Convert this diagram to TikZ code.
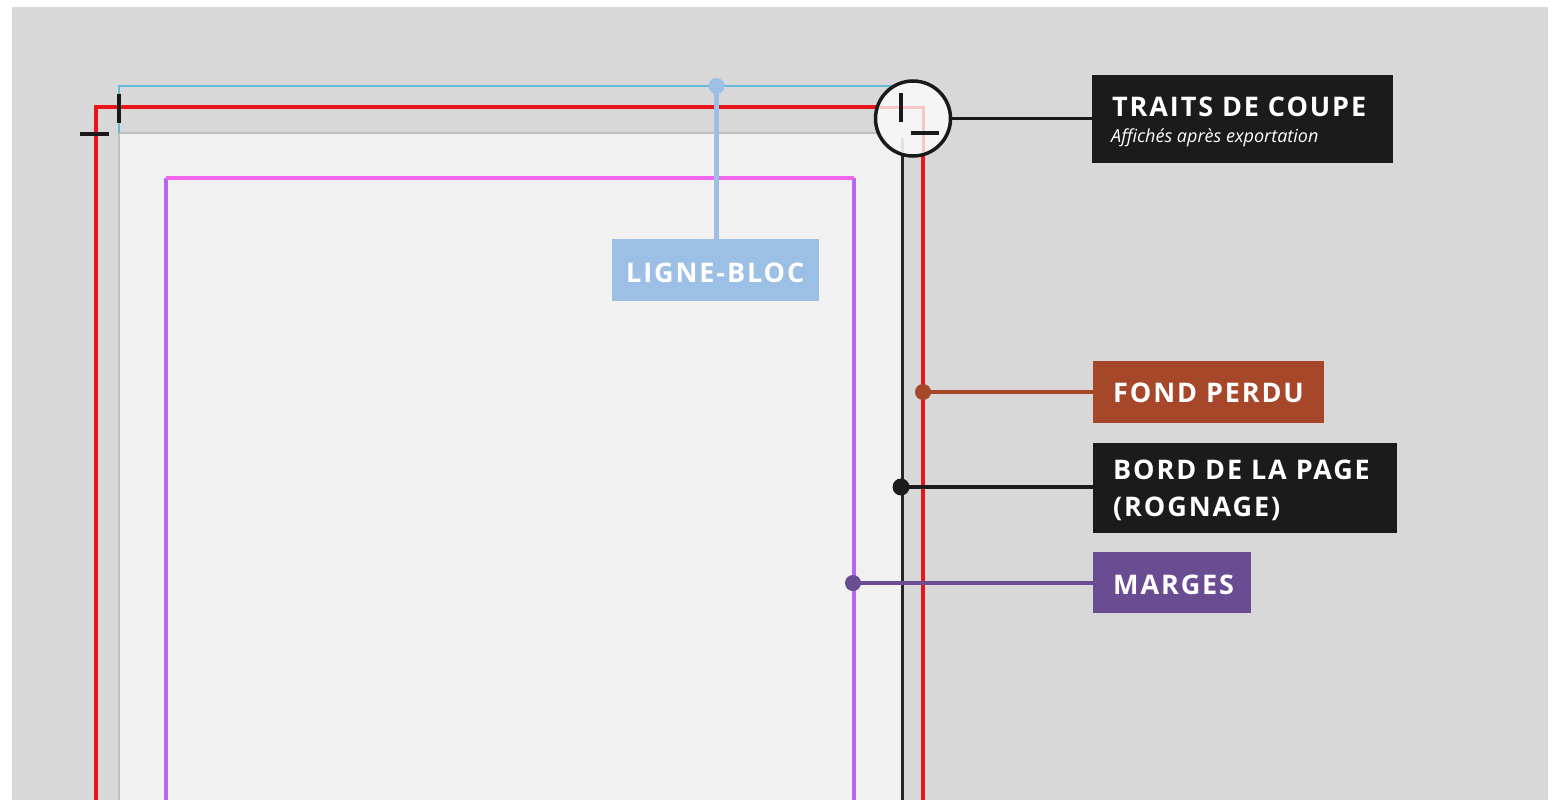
\documentclass[tikz,border=0pt]{standalone}
\usepackage{fontspec}
\setmainfont{Open Sans}
\newfontfamily\lblfont[LetterSpace=7]{Open Sans}
\begin{document}
\begin{tikzpicture}[x=1pt,y=-1pt,
  lbl/.style={anchor=base west, text=white, inner sep=0pt, font=\lblfont\bfseries\fontsize{27}{30}\selectfont},
  conn/.style={line width=4.5pt},
  dot/.style={circle, inner sep=0pt, minimum size=16pt},
  crop/.style={line width=3.2pt, black!90}]
\definecolor{bggray}{HTML}{D8D8D8}
\definecolor{pagefill}{HTML}{F1F1F1}
\definecolor{bleedred}{HTML}{E8151B}
\definecolor{lineblue}{HTML}{66BCD8}
\definecolor{boxblue}{HTML}{9CBFE5}
\definecolor{marpink}{HTML}{F064EE}
\definecolor{marviolet}{HTML}{B868F0}
\definecolor{fondbrown}{HTML}{A7472A}
\definecolor{margpurple}{HTML}{6A4C93}
\definecolor{boxblack}{HTML}{1B1B1B}
\useasboundingbox (0,0) rectangle (1553,800);
\fill[white] (0,0) rectangle (1553,800);
\fill[bggray] (12,7) rectangle (1548,800);
% page
\fill[pagefill] (119,133) rectangle (901,800);
\draw[black!25, line width=1.5pt] (119,800) -- (119,133) -- (901,133);
% ligne-bloc (blue)
\draw[lineblue, line width=2.5pt] (119,133) -- (119,86) -- (913,86);
% bleed (red)
\draw[bleedred, line width=3.5pt] (96,800) -- (96,107) -- (923,107) -- (923,800);
% margins
\draw[marviolet, line width=3.5pt] (166,800) -- (166,178);
\draw[marviolet, line width=3.5pt] (854,800) -- (854,178);
\draw[marpink, line width=3.5pt] (166,178) -- (854,178);
% page edge
\draw[black!85, line width=3pt] (902,150) -- (902,800);
% crop marks top-left
\draw[crop] (119,94) -- (119,123);
\draw[crop] (80,134) -- (109,134);
% magnifier circle
\node[circle, draw=black!90, line width=3.5pt, fill=white!96!black, minimum size=75pt, inner sep=0pt] (cc) at (913,118.5) {};
\begin{scope}
\clip (913,118.5) circle (35.5);
\draw[bleedred!25, line width=3pt] (870,107) -- (923,107) -- (923,170);
\draw[black!12, line width=3pt] (902,138) -- (902,170);
\end{scope}
\draw[crop] (901,93) -- (901,122);
\draw[crop] (911,133) -- (939,133);
% boxes
\node[rectangle, fill=boxblack, minimum width=301pt, minimum height=88pt, inner sep=0pt, anchor=north west] (traits) at (1092,75) {};
\node[lbl] (traitstitle) at (1112,117) {TRAITS DE COUPE};
\node[anchor=base west, text=white, inner sep=0pt, font=\itshape\fontsize{18}{20}\selectfont] (traitssub) at (1111,142) {Affichés après exportation};
\node[rectangle, fill=boxblue, minimum width=207pt, minimum height=62pt, inner sep=0pt, anchor=north west] (ligne) at (612,239) {};
\node[lbl] (lignetxt) at (626,282) {LIGNE-BLOC};
\node[rectangle, fill=fondbrown, minimum width=231pt, minimum height=62pt, inner sep=0pt, anchor=north west] (fond) at (1093,361) {};
\node[lbl] (fondtxt) at (1113,402) {FOND PERDU};
\node[rectangle, fill=boxblack, minimum width=304pt, minimum height=90pt, inner sep=0pt, anchor=north west] (bord) at (1093,443) {};
\node[lbl] (bordtxt1) at (1113,479) {BORD DE LA PAGE};
\node[lbl] (bordtxt2) at (1113,516) {(ROGNAGE)};
\node[rectangle, fill=margpurple, minimum width=158pt, minimum height=61pt, inner sep=0pt, anchor=north west] (marges) at (1093,552) {};
\node[lbl] (margestxt) at (1113,594) {MARGES};
% connectors
\coordinate (bdot) at (716.5,86);
\coordinate (fdot) at (923,392);
\coordinate (pdot) at (901,487);
\coordinate (mdot) at (853,583);
\draw[conn, boxblue] (bdot) -- (bdot |- ligne.north);
\draw[line width=3.5pt, black!90] (cc.east) -- (cc.east -| traits.west);
\draw[conn, fondbrown] (fdot) -- (fdot -| fond.west);
\draw[line width=3.5pt, boxblack] (pdot) -- (pdot -| bord.west);
\draw[conn, margpurple] (mdot) -- (mdot -| marges.west);
\node[dot, fill=boxblue] at (bdot) {};
\node[dot, fill=fondbrown] at (fdot) {};
\node[dot, fill=boxblack, minimum size=17pt] at (pdot) {};
\node[dot, fill=margpurple] at (mdot) {};
\end{tikzpicture}
\end{document}
